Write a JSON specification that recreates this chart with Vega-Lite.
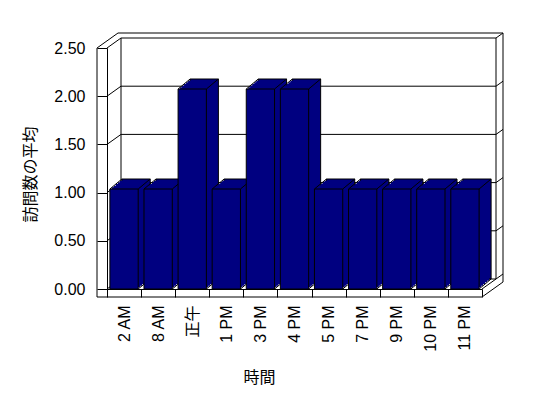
{
  "$schema": "https://vega.github.io/schema/vega-lite/v6.json",
  "width": 375,
  "height": 241,
  "autosize": {"type": "none"},
  "padding": {"left": 107, "top": 48, "right": 66, "bottom": 109},
  "background": "white",
  "datasets": {
    "bars": [
      {"t": "2 AM", "v": 1},
      {"t": "8 AM", "v": 1},
      {"t": "正午", "v": 2},
      {"t": "1 PM", "v": 1},
      {"t": "3 PM", "v": 2},
      {"t": "4 PM", "v": 2},
      {"t": "5 PM", "v": 1},
      {"t": "7 PM", "v": 1},
      {"t": "9 PM", "v": 1},
      {"t": "10 PM", "v": 1},
      {"t": "11 PM", "v": 1}
    ],
    "ticks": [{"v": 0}, {"v": 0.5}, {"v": 1}, {"v": 1.5}, {"v": 2}, {"v": 2.5}],
    "one": [{}]
  },
  "config": {
    "view": {"stroke": null},
    "font": "Liberation Sans",
    "axis": {
      "domainColor": "black", "tickColor": "black", "labelColor": "black", "titleColor": "black",
      "labelFont": "Liberation Sans, Noto Sans CJK JP", "labelFontSize": 16,
      "titleFont": "Noto Sans CJK JP", "titleFontSize": 16, "titleFontWeight": "normal",
      "labelOverlap": false, "labelFlush": false, "domainWidth": 1, "tickWidth": 1
    },
    "scale": {"bandPaddingInner": 0, "bandPaddingOuter": 0, "barBandPaddingInner": 0}
  },
  "resolve": {"scale": {"y": "independent"}, "axis": {"y": "independent", "x": "independent"}},
  "layer": [
    {
      "data": {"name": "ticks"},
      "mark": {"type": "rule", "color": "black", "strokeWidth": 1, "xOffset": 14, "x2Offset": 14, "yOffset": -10, "y2Offset": -10},
      "encoding": {
        "x": {"datum": "2 AM", "type": "nominal", "bandPosition": 0, "scale": {"domain": ["2 AM","8 AM","正午","1 PM","3 PM","4 PM","5 PM","7 PM","9 PM","10 PM","11 PM"]}, "axis": null},
        "x2": {"datum": "11 PM", "bandPosition": 1},
        "y": {"field": "v", "type": "quantitative", "scale": {"domain": [0, 2.5]},
          "axis": {"values": [0, 0.5, 1, 1.5, 2, 2.5], "format": ".2f", "tickSize": 10, "labelPadding": 12, "grid": false,
            "title": "訪問数の平均", "titleX": -77, "titleY": 126, "titleAngle": -90, "titleBaseline": "middle", "titleAlign": "center"}}
      }
    },
    {
      "data": {"name": "ticks"},
      "mark": {"type": "point", "shape": "M0,0L14,-10", "size": 4, "filled": false, "color": "black", "opacity": 1, "strokeWidth": 1},
      "encoding": {
        "x": {"datum": "2 AM", "type": "nominal", "bandPosition": 0, "axis": null},
        "y": {"field": "v", "type": "quantitative", "scale": {"domain": [0, 2.5]}, "axis": null}
      }
    },
    {
      "data": {"name": "ticks"},
      "mark": {"type": "point", "shape": "M14,-10L21,-15", "size": 4, "filled": false, "color": "black", "opacity": 1, "strokeWidth": 1},
      "encoding": {
        "x": {"datum": "11 PM", "type": "nominal", "bandPosition": 1, "axis": null},
        "y": {"field": "v", "type": "quantitative", "scale": {"domain": [0, 2.5]}, "axis": null}
      }
    },
    {
      "data": {"name": "one"},
      "mark": {"type": "rule", "color": "black", "strokeWidth": 1, "xOffset": 14, "yOffset": -10, "y2Offset": -10},
      "encoding": {
        "x": {"datum": "2 AM", "type": "nominal", "bandPosition": 0, "axis": null},
        "y": {"datum": 2.5, "type": "quantitative", "scale": {"domain": [0, 2.5]}, "axis": null},
        "y2": {"datum": 0}
      }
    },
    {
      "data": {"name": "one"},
      "mark": {"type": "rule", "color": "black", "strokeWidth": 1, "xOffset": 14, "yOffset": -10, "y2Offset": -10},
      "encoding": {
        "x": {"datum": "11 PM", "type": "nominal", "bandPosition": 1, "axis": null},
        "y": {"datum": 2.5, "type": "quantitative", "scale": {"domain": [0, 2.5]}, "axis": null},
        "y2": {"datum": 0}
      }
    },
    {
      "data": {"name": "one"},
      "mark": {"type": "rule", "color": "black", "strokeWidth": 1, "xOffset": -10, "y2Offset": 8},
      "encoding": {
        "x": {"datum": "2 AM", "type": "nominal", "bandPosition": 0, "axis": null},
        "y": {"datum": 2.5, "type": "quantitative", "scale": {"domain": [0, 2.5]}, "axis": null},
        "y2": {"datum": 0}
      }
    },
    {
      "data": {"name": "one"},
      "mark": {"type": "rule", "color": "black", "strokeWidth": 1, "xOffset": -10, "yOffset": 8},
      "encoding": {
        "x": {"datum": "2 AM", "type": "nominal", "bandPosition": 0, "axis": null},
        "x2": {"datum": "11 PM", "bandPosition": 1},
        "y": {"datum": 0, "type": "quantitative", "scale": {"domain": [0, 2.5]}, "axis": null}
      }
    },
    {
      "data": {"name": "one"},
      "mark": {"type": "rule", "color": "black", "strokeWidth": 1, "xOffset": 11, "x2Offset": 21, "yOffset": -15},
      "encoding": {
        "x": {"datum": "2 AM", "type": "nominal", "bandPosition": 0, "axis": null},
        "x2": {"datum": "11 PM", "bandPosition": 1},
        "y": {"datum": 2.5, "type": "quantitative", "scale": {"domain": [0, 2.5]}, "axis": null}
      }
    },
    {
      "data": {"name": "one"},
      "mark": {"type": "rule", "color": "black", "strokeWidth": 1, "xOffset": 21, "yOffset": -15, "y2Offset": -7},
      "encoding": {
        "x": {"datum": "11 PM", "type": "nominal", "bandPosition": 1, "axis": null},
        "y": {"datum": 2.5, "type": "quantitative", "scale": {"domain": [0, 2.5]}, "axis": null},
        "y2": {"datum": 0}
      }
    },
    {
      "data": {"name": "one"},
      "mark": {"type": "point", "shape": "M-10,0L11,-15", "size": 4, "filled": false, "color": "black", "opacity": 1, "strokeWidth": 1},
      "encoding": {
        "x": {"datum": "2 AM", "type": "nominal", "bandPosition": 0, "axis": null},
        "y": {"datum": 2.5, "type": "quantitative", "scale": {"domain": [0, 2.5]}, "axis": null}
      }
    },
    {
      "data": {"name": "one"},
      "mark": {"type": "point", "shape": "M0,0L14,-10M0,8L21,-7", "size": 4, "filled": false, "color": "black", "opacity": 1, "strokeWidth": 1},
      "encoding": {
        "x": {"datum": "11 PM", "type": "nominal", "bandPosition": 1, "axis": null},
        "y": {"datum": 0, "type": "quantitative", "scale": {"domain": [0, 2.5]}, "axis": null}
      }
    },
    {
      "data": {"name": "bars"},
      "mark": {"type": "bar", "color": "#000080", "stroke": "black", "strokeWidth": 1, "width": {"band": 0.83}, "xOffset": 12, "yOffset": -10, "y2Offset": -10},
      "encoding": {
        "x": {"field": "t", "type": "nominal", "axis": null},
        "y": {"field": "v", "type": "quantitative", "scale": {"domain": [0, 2.5], "range": [241, -9]}, "axis": null}
      }
    },
    {
      "data": {"name": "bars"},
      "mark": {"type": "bar", "color": "#000080", "strokeWidth": 0, "width": {"band": 0.83}, "xOffset": 10, "yOffset": -8.33, "y2Offset": -8.33},
      "encoding": {
        "x": {"field": "t", "type": "nominal", "axis": null},
        "y": {"field": "v", "type": "quantitative", "scale": {"domain": [0, 2.5], "range": [241, -9]}, "axis": null}
      }
    },
    {
      "data": {"name": "bars"},
      "mark": {"type": "bar", "color": "#000080", "strokeWidth": 0, "width": {"band": 0.83}, "xOffset": 8, "yOffset": -6.67, "y2Offset": -6.67},
      "encoding": {
        "x": {"field": "t", "type": "nominal", "axis": null},
        "y": {"field": "v", "type": "quantitative", "scale": {"domain": [0, 2.5], "range": [241, -9]}, "axis": null}
      }
    },
    {
      "data": {"name": "bars"},
      "mark": {"type": "bar", "color": "#000080", "strokeWidth": 0, "width": {"band": 0.83}, "xOffset": 6, "yOffset": -5, "y2Offset": -5},
      "encoding": {
        "x": {"field": "t", "type": "nominal", "axis": null},
        "y": {"field": "v", "type": "quantitative", "scale": {"domain": [0, 2.5], "range": [241, -9]}, "axis": null}
      }
    },
    {
      "data": {"name": "bars"},
      "mark": {"type": "bar", "color": "#000080", "strokeWidth": 0, "width": {"band": 0.83}, "xOffset": 4, "yOffset": -3.33, "y2Offset": -3.33},
      "encoding": {
        "x": {"field": "t", "type": "nominal", "axis": null},
        "y": {"field": "v", "type": "quantitative", "scale": {"domain": [0, 2.5], "range": [241, -9]}, "axis": null}
      }
    },
    {
      "data": {"name": "bars"},
      "mark": {"type": "bar", "color": "#000080", "strokeWidth": 0, "width": {"band": 0.83}, "xOffset": 2, "yOffset": -1.67, "y2Offset": -1.67},
      "encoding": {
        "x": {"field": "t", "type": "nominal", "axis": null},
        "y": {"field": "v", "type": "quantitative", "scale": {"domain": [0, 2.5], "range": [241, -9]}, "axis": null}
      }
    },
    {
      "data": {"name": "bars"},
      "mark": {"type": "point", "shape": "M0,0L12,-10", "size": 4, "filled": false, "color": "black", "opacity": 1, "strokeWidth": 1},
      "encoding": {
        "x": {"field": "t", "type": "nominal", "bandPosition": 0.085, "axis": null},
        "y": {"field": "v", "type": "quantitative", "scale": {"domain": [0, 2.5], "range": [241, -9]}, "axis": null}
      }
    },
    {
      "data": {"name": "bars"},
      "mark": {"type": "point", "shape": "M0,0L12,-10", "size": 4, "filled": false, "color": "black", "opacity": 1, "strokeWidth": 1},
      "encoding": {
        "x": {"field": "t", "type": "nominal", "bandPosition": 0.915, "axis": null},
        "y": {"field": "v", "type": "quantitative", "scale": {"domain": [0, 2.5], "range": [241, -9]}, "axis": null}
      }
    },
    {
      "data": {"name": "bars"},
      "mark": {"type": "point", "shape": "M0,0L12,-10", "size": 4, "filled": false, "color": "black", "opacity": 1, "strokeWidth": 1},
      "encoding": {
        "x": {"field": "t", "type": "nominal", "bandPosition": 0.915, "axis": null},
        "y": {"datum": 0, "type": "quantitative", "scale": {"domain": [0, 2.5], "range": [241, -9]}, "axis": null}
      }
    },
    {
      "data": {"name": "bars"},
      "mark": {"type": "bar", "color": "#000080", "stroke": "black", "strokeWidth": 1, "width": {"band": 0.83}},
      "encoding": {
        "x": {"field": "t", "type": "nominal",
          "scale": {"domain": ["2 AM","8 AM","正午","1 PM","3 PM","4 PM","5 PM","7 PM","9 PM","10 PM","11 PM"], "paddingInner": 0, "paddingOuter": 0},
          "axis": {"labelAngle": -90, "tickBand": "extent", "tickSize": 8, "labelPadding": 8,
            "title": "時間", "titleX": 152, "titleY": 88, "titleBaseline": "middle", "titleAlign": "center"}},
        "y": {"field": "v", "type": "quantitative", "scale": {"domain": [0, 2.5], "range": [241, -9]}, "axis": null}
      }
    }
  ]
}
